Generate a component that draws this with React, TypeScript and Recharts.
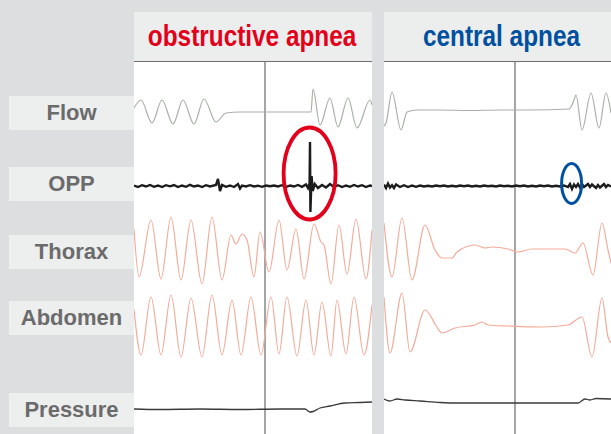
import React from 'react'
import { LineChart, Line, XAxis, YAxis, ReferenceLine, ReferenceDot } from 'recharts'

type Pt = [number, number]

// time in seconds (t), signal in arbitrary units (v)
const flowObstructive: Pt[] = [
  [0, 0.4], [1.75, 1.2], [4.5, -1.1], [7, 1.2], [9.75, -1.2], [12.25, 1.2], [15, -1.2],
  [17.5, 1.3], [20.5, -1.0], [23, -0.1], [26.5, 0], [32, 0], [39, 0], [44.25, 0],
  [44.75, 2.3], [46.5, -1.3], [49, 1.4], [51, -1.5], [53.5, 1.4], [55.75, -1.6], [59, 1.2], [59.5, 0.7],
]

const oppObstructive: Pt[] = [
  [0, 0.05], [1, -0.1], [2, 0.08], [3, -0.05], [4, 0.1], [5, -0.08], [6, 0.05], [7, -0.1], [8, 0.08],
  [9, -0.03], [10, 0.1], [11, -0.1], [12, 0.05], [13, -0.08], [14, 0.12], [15, -0.05], [16, 0.05],
  [17, -0.1], [18, 0.08], [19, -0.05], [20.5, 0.1], [21, 0.7], [21.5, -0.5], [22, 0.1], [23, -0.08],
  [24, 0.05], [25, -0.1], [26, 0.2], [26.5, -0.25], [27, 0.05], [28, -0.05], [29, 0.08], [30, -0.05],
  [31, 0.03], [32, -0.08], [33, 0.05], [34, -0.03], [35, 0.05], [36, -0.05], [37, 0.08], [38, -0.1],
  [39, 0.05], [40, -0.05], [41, 0.1], [42, -0.08], [43, 0.15], [43.5, -0.2], [43.9, 0.3], [44, 4.4],
  [44.1, -2.6], [44.4, 1.0], [44.7, -0.5], [45.2, 0.2], [46, -0.2], [47, 0.1], [48, -0.15], [49, 0.2],
  [50, -0.1], [51, 0.08], [52, -0.1], [53, 0.05], [54, -0.08], [55, 0.1], [56, -0.05], [57, 0.08],
  [58, -0.1], [59, 0.05], [59.5, 0],
]

const thoraxObstructive: Pt[] = [
  [0, 2.1], [1.25, -2.7], [4.25, 3.0], [6.75, -2.9], [9.25, 3.3], [11.75, -3.0], [14.25, 3.0],
  [17, -3.4], [19.5, 3.3], [22, -3.0], [24.25, 1.5], [25.5, 0.6], [27, 1.6], [28.25, 1.0],
  [30, -2.7], [31.5, 1.8], [33.75, -2.2], [36.25, 3.0], [38.25, -2.0], [40.5, 2.1], [42.5, -2.9],
  [45, 2.6], [46.75, 0.8], [47.5, 0.5], [49.25, -3.4], [51.25, 2.5], [53.25, -2.4], [55.5, 3.1],
  [58, -2.9], [59.5, 2.0],
]

const abdomenObstructive: Pt[] = [
  [0, 1.8], [1.75, -2.8], [4.25, 3.0], [6.75, -2.8], [9.25, 3.2], [11.75, -3.0], [14.25, 2.9],
  [17, -3.0], [19.5, 3.2], [22, -2.8], [24.5, 2.7], [26.75, -2.8], [29.25, 3.0], [31.75, -2.8],
  [34.25, 3.0], [36.25, -2.7], [38.25, 3.0], [40.75, -2.9], [43, 2.7], [45, -2.8], [47, 2.5],
  [49.25, -2.9], [50.75, 2.7], [53, -2.7], [55, 3.0], [57.5, -2.8], [59.5, 2.2],
]

const pressureObstructive: Pt[] = [
  [0, 0], [6.5, -0.05], [16.5, 0], [26.5, -0.05], [36.5, 0], [42.75, 0], [44, -0.3],
  [44.75, -0.25], [46.5, 0.1], [49, 0.3], [52.75, 0.6], [56.5, 0.65], [59.5, 0.7],
]

const flowCentral: Pt[] = [
  [0, -1.4], [0.5, -1.1], [2, 2.0], [4.25, -1.8], [5.75, 0], [8.25, 0.2], [14, 0.2], [21.5, 0.15],
  [29, 0.2], [36.5, 0.2], [46.25, 0.3], [47.5, 1.2], [48, 1.7], [49.5, -1.8], [51.75, 1.9],
  [53.75, -1.6], [55.5, 1.9], [56.75, -0.1],
]

const oppCentral: Pt[] = [
  [0, 0.15], [0.5, -0.2], [1, 0.25], [1.5, -0.15], [2, 0.08], [2.5, -0.2], [3, 0.15], [4, -0.1],
  [5, 0.08], [6, -0.1], [7, 0.05], [8, -0.08], [9, 0.05], [10, -0.05], [11, 0.03], [12, -0.05],
  [13, 0.05], [14, -0.03], [15, 0.05], [16, -0.05], [17, 0.03], [18, -0.05], [19, 0.05], [20, -0.03],
  [21, 0.05], [22, -0.05], [23, 0.03], [24, -0.05], [25, 0.05], [26, -0.03], [27, 0.03], [28, -0.05],
  [29, 0.05], [30, -0.03], [31, 0.03], [32, -0.05], [33, 0.05], [34, -0.03], [35, 0.05], [36, -0.05],
  [37, 0.03], [38, -0.05], [39, 0.05], [40, -0.03], [41, 0.05], [42, -0.05], [43, 0.03], [44, -0.05],
  [45, 0.05], [46, -0.1], [46.5, 0.2], [47, -0.3], [47.5, 0.15], [48, -0.1], [48.5, 0.2],
  [49, -0.15], [49.5, 0.2], [50, -0.1], [51, 0.2], [51.5, -0.1], [52, 0.15], [53, -0.2],
  [53.5, 0.1], [54, -0.15], [55, 0.2], [55.5, -0.1], [56, 0.1], [56.75, -0.05],
]

const thoraxCentral: Pt[] = [
  [0, 2.7], [2, -2.7], [4.5, 3.2], [7, -3.0], [10.25, 2.5], [12.75, 0], [14.5, -0.8], [17, -0.8],
  [18.25, -0.2], [22.75, 0.5], [25.25, 0.2], [27, 0.3], [31, 0.1], [33.5, -0.2], [37, 0.1],
  [45.25, 0.1], [47.75, -0.3], [49.75, 0.7], [52.25, -2.5], [54.5, 2.7], [56, 0], [56.75, -1.3],
]

const abdomenCentral: Pt[] = [
  [0, 3.0], [1.5, -2.6], [4.5, 3.4], [6.5, -2.5], [10.25, 1.7], [13.25, 0], [14.5, -0.6],
  [17.75, -0.1], [22.75, 0.2], [24.5, 0.5], [26, 0.2], [31, 0.1], [39.5, 0], [46, 0.2],
  [49.5, 1.0], [52, -3.0], [54.5, 2.9], [56, -1.0], [56.75, -1.6],
]

const pressureCentral: Pt[] = [
  [0, 1.0], [1.5, 0.8], [3.25, 1.0], [5.25, 0.9], [9, 0.8], [14, 0.65], [19, 0.6], [29, 0.6],
  [39, 0.6], [48.5, 0.6], [50.25, 1.0], [51.5, 0.9], [53, 1.05], [56.75, 1.0],
]

const channelLabels = ['Flow', 'OPP', 'Thorax', 'Abdomen', 'Pressure']
const panelTitles = ['obstructive apnea', 'central apnea']
const cursorTime = 32.75

// layout
const CHART_TOP = 62
const CHART_H = 372
const PX_PER_UNIT = 10
const bandCenters: Record<string, number> = { flow: 112, opp: 186, thorax: 250, abdomen: 327, pressure: 409 }
const labelBoxTops = [96, 167, 235, 301, 393]

const domainFor = (center: number): [number, number] => [
  -(CHART_TOP + CHART_H - center) / PX_PER_UNIT,
  (center - CHART_TOP) / PX_PER_UNIT,
]

const toRows = (pts: Pt[]) => pts.map(([t, v]) => ({ t, v }))

const sans = "'Liberation Sans', Arial, sans-serif"

interface Marker { t: number; v: number; rx: number; ry: number; color: string; sw: number }

interface PanelProps {
  left: number
  width: number
  xMax: number
  title: string
  titleColor: string
  titleCenter: number
  flow: Pt[]
  opp: Pt[]
  thorax: Pt[]
  abdomen: Pt[]
  pressure: Pt[]
  marker: Marker
}

function Panel({ left, width, xMax, title, titleColor, titleCenter, flow, opp, thorax, abdomen, pressure, marker }: PanelProps) {
  const traces = [
    { id: 'flow', data: flow, color: '#a7b1a6', w: 1.2, type: 'monotone' },
    { id: 'opp', data: opp, color: '#1c1c1c', w: 2.4, type: 'linear' },
    { id: 'thorax', data: thorax, color: '#f3ab9a', w: 1.2, type: 'monotone' },
    { id: 'abdomen', data: abdomen, color: '#f3ab9a', w: 1.2, type: 'monotone' },
    { id: 'pressure', data: pressure, color: '#3a3a3a', w: 1.3, type: 'monotone' },
  ]
  return (
    <>
      <div style={{ position: 'absolute', left, top: 12, width, height: 49, background: '#eceeed', borderBottom: '1.5px solid #6f6f6f' }} />
      <div
        style={{
          position: 'absolute', left: titleCenter - 150, width: 300, top: 12, height: 49, lineHeight: '49px',
          textAlign: 'center', fontFamily: sans, fontWeight: 700, fontSize: 29, color: titleColor,
        }}
      >
        <span style={{ display: 'inline-block', transform: 'scaleX(0.84)' }}>{title}</span>
      </div>
      <div style={{ position: 'absolute', left, top: CHART_TOP, width, height: CHART_H, background: '#ffffff' }}>
        <LineChart width={width} height={CHART_H} margin={{ top: 0, right: 0, bottom: 0, left: 0 }}>
          <XAxis type="number" dataKey="t" domain={[0, xMax]} hide allowDataOverflow />
          {traces.map((tr) => (
            <YAxis key={tr.id} yAxisId={tr.id} type="number" domain={domainFor(bandCenters[tr.id])} hide allowDataOverflow />
          ))}
          <ReferenceLine x={cursorTime} yAxisId="flow" stroke="#6a6a6a" strokeWidth={1.2} />
          {traces.map((tr) => (
            <Line
              key={tr.id}
              yAxisId={tr.id}
              data={toRows(tr.data)}
              dataKey="v"
              type={tr.type as any}
              stroke={tr.color}
              strokeWidth={tr.w}
              dot={false}
              activeDot={false}
              isAnimationActive={false}
            />
          ))}
          <ReferenceDot
            x={marker.t}
            y={marker.v}
            yAxisId="opp"
            shape={(p: any) => (
              <ellipse cx={p.cx} cy={p.cy} rx={marker.rx} ry={marker.ry} fill="none" stroke={marker.color} strokeWidth={marker.sw} />
            )}
          />
        </LineChart>
      </div>
    </>
  )
}

export default function App() {
  return (
    <div style={{ position: 'absolute', left: 0, top: 0, width: 611, height: 434, background: '#dcdee0', overflow: 'hidden' }}>
      {channelLabels.map((label, i) => (
        <div
          key={label}
          style={{
            position: 'absolute', left: 9, top: labelBoxTops[i], width: 125, height: 34, lineHeight: '34px',
            background: '#edeeee', textAlign: 'center', fontFamily: sans,
            fontWeight: 700, fontSize: 22, color: '#6b6b6b',
          }}
        >
          {label}
        </div>
      ))}
      <Panel
        left={134}
        width={238}
        xMax={59.5}
        title={panelTitles[0]}
        titleColor="#e2001a"
        titleCenter={252}
        flow={flowObstructive}
        opp={oppObstructive}
        thorax={thoraxObstructive}
        abdomen={abdomenObstructive}
        pressure={pressureObstructive}
        marker={{ t: 43.9, v: 1.25, rx: 26, ry: 46, color: '#e2001a', sw: 3.8 }}
      />
      <Panel
        left={384}
        width={227}
        xMax={56.75}
        title={panelTitles[1]}
        titleColor="#0050a0"
        titleCenter={501}
        flow={flowCentral}
        opp={oppCentral}
        thorax={thoraxCentral}
        abdomen={abdomenCentral}
        pressure={pressureCentral}
        marker={{ t: 46.9, v: 0.25, rx: 10, ry: 20, color: '#0050a0', sw: 3 }}
      />
    </div>
  )
}
